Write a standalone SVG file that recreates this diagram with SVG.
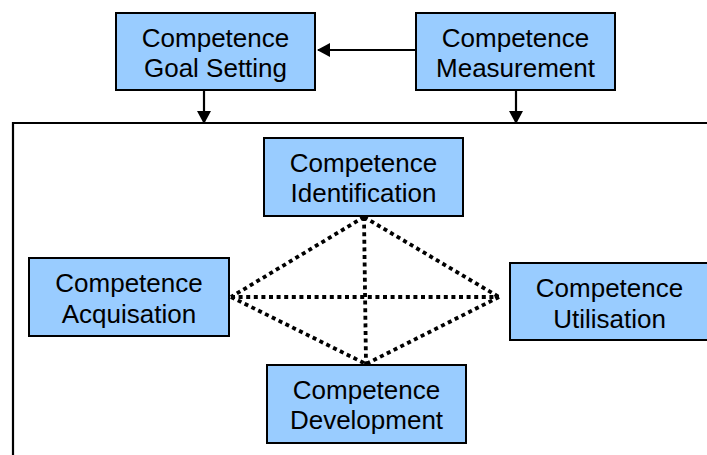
<svg xmlns="http://www.w3.org/2000/svg" width="707" height="455" viewBox="0 0 707 455">
<style>
.box{fill:#99CCFF;stroke:#000;stroke-width:2}
.t{font-family:"Liberation Sans",Arial,sans-serif;font-size:26px;fill:#000;text-anchor:middle}
.ln{stroke:#000;stroke-width:2.2;fill:none}
.dot{stroke:#000;stroke-width:3.8;fill:none;stroke-dasharray:4 3.6}
</style>
<defs>
<marker id="ah" markerWidth="14" markerHeight="14" refX="12" refY="7" orient="auto" markerUnits="userSpaceOnUse">
<path d="M0,0 L13,7 L0,14 Z" fill="#000"/>
</marker>
</defs>
<g id="connectors">
<path class="ln" d="M13,455 V123 H707"/>
<line class="ln" x1="416" y1="50" x2="318" y2="50" marker-end="url(#ah)"/>
<line class="ln" x1="204" y1="90" x2="204" y2="123" marker-end="url(#ah)"/>
<line class="ln" x1="516" y1="90" x2="516" y2="123" marker-end="url(#ah)"/>
<line class="dot" x1="364" y1="217" x2="231" y2="297"/>
<line class="dot" x1="364" y1="217" x2="499" y2="297"/>
<line class="dot" x1="364" y1="217" x2="366" y2="364"/>
<line class="dot" x1="231" y1="297" x2="499" y2="297"/>
<line class="dot" x1="231" y1="297" x2="366" y2="364"/>
<line class="dot" x1="499" y1="297" x2="366" y2="364"/>
</g>
<g id="goal-setting">
<rect class="box" x="116" y="13" width="199" height="77"/>
<text class="t" x="215.5" y="47">Competence</text>
<text class="t" x="215.5" y="77">Goal Setting</text>
</g>
<g id="measurement">
<rect class="box" x="416" y="13" width="199" height="77"/>
<text class="t" x="515.5" y="47">Competence</text>
<text class="t" x="515.5" y="77">Measurement</text>
</g>
<g id="identification">
<rect class="box" x="264" y="138" width="199" height="78"/>
<text class="t" x="363.5" y="172">Competence</text>
<text class="t" x="363.5" y="202">Identification</text>
</g>
<g id="acquisation">
<rect class="box" x="29" y="258" width="200" height="78"/>
<text class="t" x="129" y="292">Competence</text>
<text class="t" x="129" y="323">Acquisation</text>
</g>
<g id="utilisation">
<rect class="box" x="510" y="263" width="199" height="77"/>
<text class="t" x="609.5" y="297">Competence</text>
<text class="t" x="609.5" y="328">Utilisation</text>
</g>
<g id="development">
<rect class="box" x="267" y="365" width="199" height="78"/>
<text class="t" x="366.5" y="399">Competence</text>
<text class="t" x="366.5" y="429">Development</text>
</g>
</svg>
